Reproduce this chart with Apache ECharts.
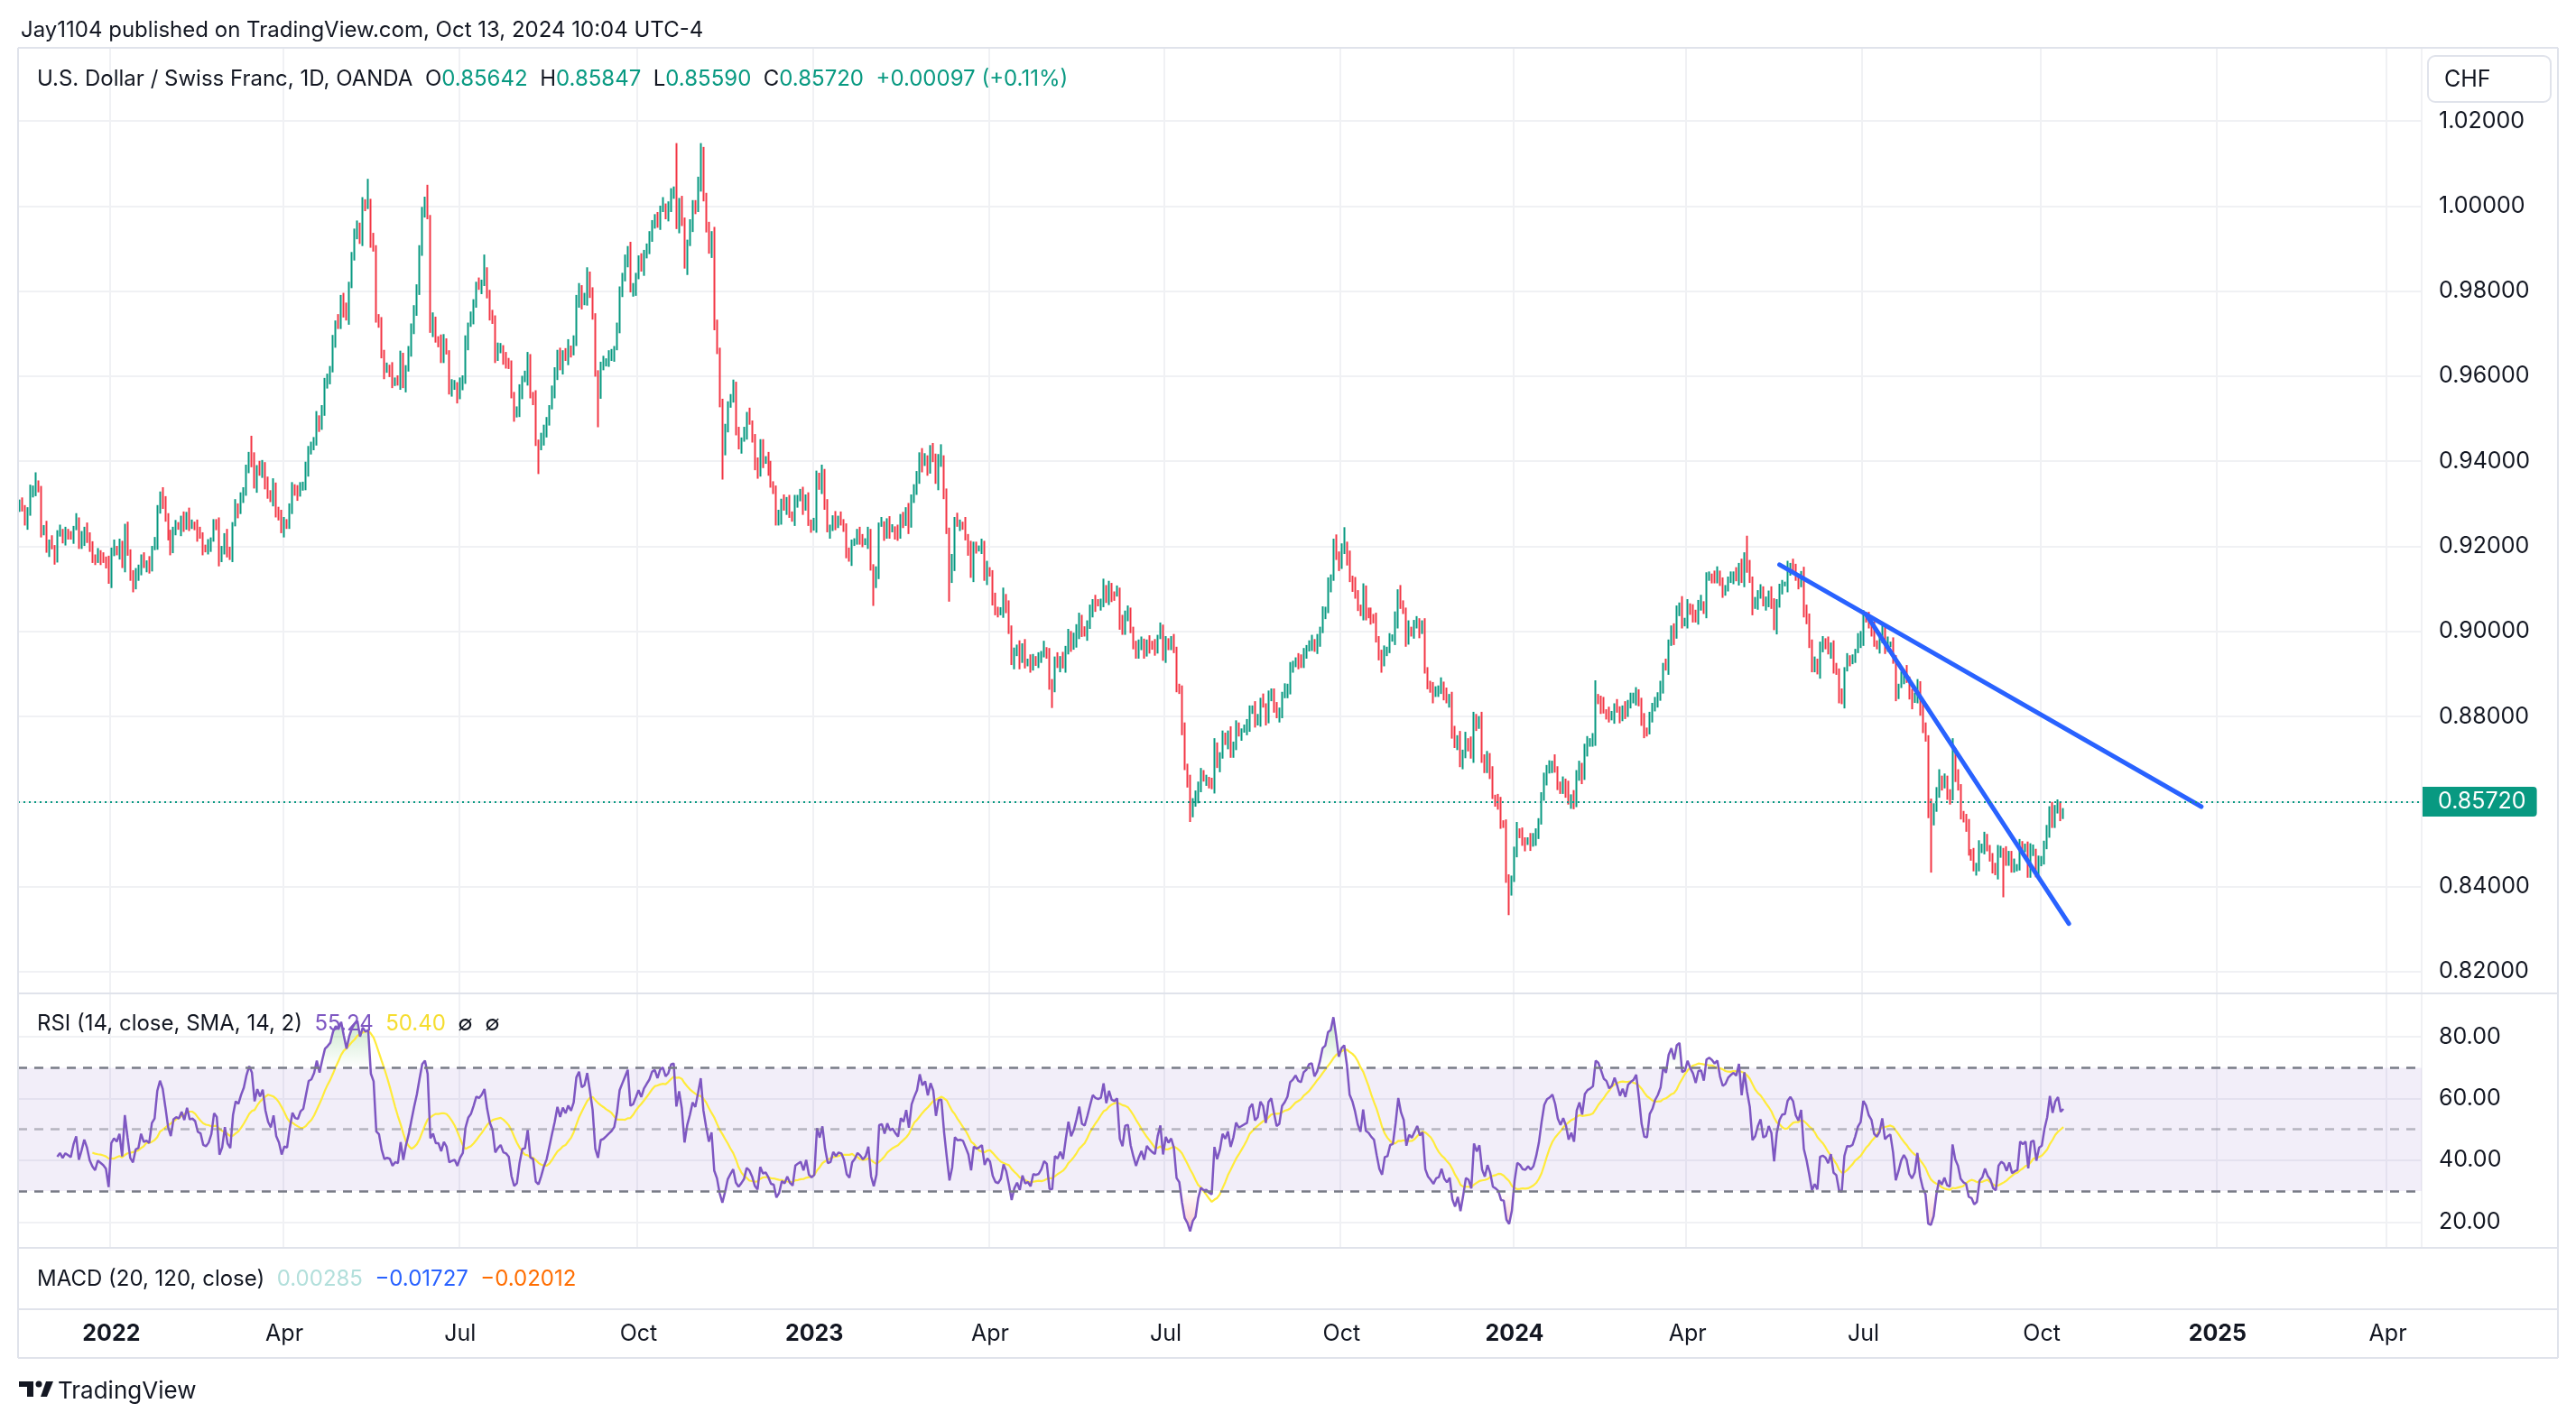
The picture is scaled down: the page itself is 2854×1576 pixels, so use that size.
<!DOCTYPE html>
<html><head><meta charset="utf-8">
<script src="https://cdn.jsdelivr.net/npm/echarts@6/dist/echarts.min.js"></script>
<style>html,body{margin:0;padding:0;background:#fff}#c{width:2854px;height:1576px}</style>
</head><body><div id="c"></div>
<script>
// ---------------- DATA ----------------
// Daily closes (in pips, x 0.0001), one trading day per entry
const closes2021 = [
  9300,9292,9254,9282,9325,9338,9345,9332,9236,9245,9195, // Nov 16-30
  9206,9198,9172,9228,9236,9222,9231,9226,9221,9243,9258,9204,9221,9241,9223,9192,9176,9166,9181,9176,9171,9163,9117 // Dec
];
const closes2022 = [
  9187,9196,9189,9203,9154,9243,9188,9124,9109,9139,9142,9176,9154,9157,9151,9196,9207,9287,9324,9308,9268, // Jan
  9219,9194,9241,9247,9244,9262,9244,9276,9251,9253,9248,9226,9223,9199,9196,9202,9216,9254,9248,9173, // Feb
  9186,9226,9189,9178,9252,9291,9286,9312,9334,9377,9412,9401,9346,9386,9371,9393,9349,9322,9309,9340,9288,9271,9236, // Mar
  9254,9251,9296,9336,9324,9322,9341,9347,9384,9426,9431,9452,9498,9479,9527,9581,9596,9614,9682,9726,9721, // Apr
  9781,9758,9736,9817,9882,9927,9956,9926,10006,9998,10012,9917,9898,9736,9724,9657,9613,9617,9613,9582,9592,9588, // May
  9645,9577,9621,9656,9704,9757,9811,9893,9988,10012,9974,9712,9735,9684,9683,9641,9679,9656,9572,9578,9581,9551, // Jun
  9577,9592,9681,9721,9737,9771,9812,9808,9822,9846,9793,9751,9728,9646,9659,9668,9642,9638,9627,9553,9508, // Jul
  9514,9561,9596,9598,9647,9553,9547,9446,9431,9452,9476,9494,9527,9563,9601,9652,9624,9656,9641,9667,9654,9681,9781, // Aug
  9809,9772,9781,9836,9794,9743,9604,9562,9624,9628,9637,9646,9654,9666,9711,9801,9833,9866,9901,9802,9809,9838, // Sep
  9869,9851,9887,9907,9926,9962,9971,9954,9991,10001,9984,9996,10032,10036,9951,10004,9963,9858,9916,9954,10004, // Oct
  9991,10049,10124,10021,9958,9893,9931,9718,9662,9532,9434,9478,9531,9553,9572,9471,9438,9451,9466,9506,9491,9454, // Nov
  9394,9369,9442,9404,9407,9381,9343,9338,9259,9271,9302,9289,9306,9277,9263,9311,9316,9320,9289,9312,9258,9247 // Dec
];
const closes2023 = [
  9252,9368,9338,9372,9296,9238,9241,9268,9253,9262,9259,9239,9187,9174,9206,9214,9226,9219,9208,9214,9231,9148, // Jan
  9112,9133,9251,9254,9228,9256,9238,9242,9231,9223,9266,9258,9287,9249,9312,9336,9357,9416,9394,9409, // Feb
  9381,9423,9408,9352,9402,9404,9321,9234,9124,9162,9264,9251,9253,9249,9224,9198,9131,9201,9193,9197,9203,9129,9146, // Mar
  9134,9076,9048,9043,9052,9083,9058,9004,8926,8952,8964,8931,8962,8928,8931,8913,8937,8934,8936,8944, // Apr
  8958,8951,8873,8872,8931,8924,8937,8918,8956,8996,8962,8977,9002,9034,8997,8993,9016,9043,9071,9066,9064,9067,9104, // May
  9072,9104,9089,9087,9093,9019,9002,9044,9046,9001,8973,8946,8961,8973,8951,8976,8968,8962,8958,8987,9006,8946, // Jun
  8979,8966,8974,8954,8872,8858,8776,8684,8648,8578,8598,8606,8642,8664,8652,8653,8641,8634,8729,8689,8711, // Jul
  8752,8738,8757,8713,8736,8776,8763,8767,8771,8774,8811,8821,8789,8796,8834,8826,8794,8846,8856,8829,8801,8806,8848, // Aug
  8858,8872,8913,8921,8934,8926,8924,8951,8958,8974,8977,8962,8974,9001,9044,9053,9112,9124,9208,9183,9152, // Sep
  9192,9206,9175,9121,9108,9087,9058,9041,9098,9046,9041,9031,9024,8984,8942,8923,8957,8959,8981,8983,9027,9094, // Oct
  9063,9046,8979,9006,8998,9012,9026,9004,9011,8906,8879,8866,8851,8861,8863,8877,8848,8836,8843,8768,8736,8751, // Nov
  8686,8712,8744,8738,8706,8801,8776,8791,8706,8677,8704,8673,8611,8603,8591,8546,8543,8424,8389,8416 // Dec
];
const closes2024 = [
  8484,8532,8524,8506,8503,8511,8499,8506,8527,8556,8607,8658,8676,8682,8691,8673,8642,8628,8644,8629,8598,8612, // Jan
  8592,8664,8686,8661,8721,8734,8739,8746,8843,8839,8826,8812,8808,8796,8803,8826,8814,8799,8816,8804,8834, // Feb
  8841,8846,8859,8829,8788,8764,8763,8806,8817,8836,8847,8864,8921,8913,8976,9004,8988,9051,9063,9017,9022, // Mar
  9061,9049,9041,9026,9064,9066,9051,9124,9131,9128,9123,9133,9112,9099,9104,9119,9126,9131,9128,9156,9119,9176, // Apr
  9148,9124,9058,9066,9087,9101,9064,9067,9086,9073,9008,9066,9097,9111,9112,9146,9156,9149,9124,9114,9137,9053,9022, // May
  8976,8914,8926,8904,8971,8974,8968,8951,8969,8911,8903,8846,8839,8911,8934,8933,8936,8954,8976,8986, // Jun
  9040,9031,9012,9003,8974,8968,8977,9004,8962,8968,8971,8934,8856,8872,8891,8901,8889,8850,8837,8846,8878,8812,8771, // Jul
  8746,8576,8564,8581,8624,8656,8636,8651,8619,8613,8711,8656,8631,8573,8556,8549,8483,8476,8441,8446,8489,8496, // Aug
  8514,8488,8474,8441,8432,8478,8486,8480,8459,8474,8443,8446,8448,8497,8491,8496,8431,8482,8484,8432,8458, // Sep
  8462,8498,8525,8584,8548,8582,8595,8564,8572 // Oct 1-11
];
const firstOpen = 0.9296;
// Upper / lower wick lengths per day, in units of 5 pips
const upWick = "2312413221 3241231322 1423132413 2213241322 3142312241 3213224132 2413213421 3122431321 4231322413 2132421332 1324213231 4213223142 3312421323 1422313241 2321342132 2413123421 3214231322 4132213421 3122341321 2413221342 3124132213 4231224132 1322413213 4213123241 3221342132 2413212431 3221432132 4123221342 1324231213 4231321423 2132413221 3421322413 1232142313 2241321342 3123241321 4132213241 2321413221 3241321324 1232413221 4321324132 2413213241 3221432132 4132213421 3213241322 1342132241 3212431322 4132213241 3213422131 4231322413 2132421322 3241321324 1322413213 4213223142 3213241321 2413221342 3122413213 4213223142 1324132213 4231224132 1322413221 3421322413 1232142313 2241321342 3123241321 4132213241 2321413221 3241321324 1232413221 4321324132 2413213241 3221432132 4132213421 3213241322 1342132241 3212431322 413221";
const dnWick = "3213224132 2413213421 3122431321 4231322413 2132421332 1324213231 4213223142 3312421323 1422313241 2321342132 2413123421 3214231322 4132213421 3122341321 2413221342 3124132213 4231224132 1322413213 4213123241 3221342132 2413212431 3221432132 4123221342 1324231213 4231321423 2132413221 3421322413 1232142313 2241321342 3123241321 4132213241 2321413221 3241321324 1232413221 4321324132 2413213241 3221432132 4132213421 3213241322 1342132241 3212431322 4132213241 3213422131 4231322413 2132421322 3241321324 1322413213 4213223142 3213241321 2413221342 3122413213 4213223142 1324132213 4231224132 1322413221 3421322413 1232142313 2241321342 3123241321 4132213241 2321413221 3241321324 1232413221 4321324132 2413213241 3221432132 4132213421 3213241322 1342132241 3212431322 4132213241 3213422131 4231322413 213242";
// Notable session extremes: [date, high, low]
const extremes = [
  ['2021-11-24',0.9374,null],['2022-01-13',null,0.9092],['2022-03-16',0.9460,null],
  ['2022-05-16',1.0064,null],['2022-06-15',1.0050,null],['2022-07-14',0.9886,null],
  ['2022-08-11',null,0.9370],['2022-09-12',null,0.9480],['2022-10-21',1.0148,null],
  ['2022-11-03',1.0148,null],['2022-11-15',null,0.9357],['2023-02-01',null,0.9060],
  ['2023-03-08',0.9440,null],['2023-03-13',null,0.9070],['2023-05-04',null,0.8820],
  ['2023-07-14',null,0.8552],['2023-10-03',0.9245,null],['2023-12-28',null,0.8333],
  ['2024-02-13',0.8885,null],['2024-05-01',0.9225,null],['2024-08-05',0.8607,0.8433],
  ['2024-08-15',0.8749,null],['2024-09-11',null,0.8375],['2024-10-11',0.85847,0.85590]
];
// Drawn trend lines: [date, price]
const trendUpper = [['2024-05-17',0.9157],['2024-12-23',0.8588]];
const trendLower = [['2024-07-02',0.9040],['2024-10-15',0.8313]];
// Tick labels
const priceTicks = [0.82,0.84,0.86,0.88,0.90,0.92,0.94,0.96,0.98,1.00,1.02];
const rsiTicks = [20,40,60,80];
const monthNames = ['Jan','Feb','Mar','Apr','May','Jun','Jul','Aug','Sep','Oct','Nov','Dec'];
const holidays = ['2023-12-25','2024-01-01','2024-12-25','2025-01-01'];
const lastClose = 0.8572, lastRsi = 55.24, lastRsiMa = 50.40;

// ---------------- BUILD ----------------
function buildDates(){
  const out=[]; let t=Date.UTC(2021,10,16); const end=Date.UTC(2025,3,17);
  while(t<=end){ const d=new Date(t); const wd=d.getUTCDay(); const s=d.toISOString().slice(0,10);
    if(wd!==0&&wd!==6&&holidays.indexOf(s)<0) out.push(s); t+=86400000; }
  return out;
}
const dates = buildDates();
const closes = [].concat(closes2021,closes2022,closes2023,closes2024).map(v=>v/10000);
const upW = upWick.replace(/\s/g,'').split('').map(Number);
const dnW = dnWick.replace(/\s/g,'').split('').map(Number);
const exMap = {}; extremes.forEach(e=>exMap[e[0]]=e);
const candles = closes.map((c,i)=>{
  const o = i ? closes[i-1] : firstOpen;
  let h = Math.max(o,c) + (upW[i]!=null?upW[i]:2)*0.0005;
  let l = Math.min(o,c) - (dnW[i]!=null?dnW[i]:2)*0.0005;
  const ex = exMap[dates[i]];
  if(ex){ if(ex[1]!=null) h=Math.max(ex[1],o,c); if(ex[2]!=null) l=Math.min(ex[2],o,c); }
  return [o,c,l,h];
});
// RSI(14) with RMA, and its SMA(14)
function calcRsi(cl,n){
  const out=new Array(cl.length).fill('-'); let g=0,ls=0;
  for(let i=1;i<=n;i++){const d=cl[i]-cl[i-1]; if(d>0) g+=d; else ls-=d;}
  g/=n; ls/=n; out[n]=ls===0?100:100-100/(1+g/ls);
  for(let i=n+1;i<cl.length;i++){const d=cl[i]-cl[i-1]; g=(g*(n-1)+Math.max(d,0))/n; ls=(ls*(n-1)+Math.max(-d,0))/n; out[i]=ls===0?100:100-100/(1+g/ls);}
  return out;
}
const rsi = calcRsi(closes,14);
const rsiMa = rsi.map((v,i)=>{ if(i<27) return '-'; let s=0; for(let k=i-13;k<=i;k++) s+=rsi[k]; return s/14; });
const obBase = rsi.map(v=>v==='-'?'-':70);
const obTop = rsi.map(v=>v==='-'?'-':Math.max(v-70,0));
const osBase = rsi.map(v=>v==='-'?'-':Math.min(v,30));
const osTop = rsi.map(v=>v==='-'?'-':30-Math.min(v,30));

const isQ = dates.map((d,i)=>{ const m=+d.slice(5,7)-1; if(m%3!==0) return false; return i===0 || dates[i-1].slice(5,7)!==d.slice(5,7); });
const qInterval = (idx)=>isQ[idx];

const FONT = "Inter, 'Noto Sans', Roboto, sans-serif";
const TXT = '#131722', GRIDC = '#f0f1f4', FRAME = '#e0e3eb';
const UP = '#089981', DOWN = '#f23645';
const HF = 24; // legend font size
const AF = 25; // axis font size

const L = 20, R = 2854-2683;
const grids = [
  {left:L, right:R, top:53, height:1048, outerBoundsMode:'none'},
  {left:L, right:R, top:1101, height:282, outerBoundsMode:'none'},
  {left:L, right:R, top:1383, height:68, outerBoundsMode:'none'}
];
function xAx(gi, showLabel){
  return {type:'category', gridIndex:gi, data:dates, boundaryGap:true,
    axisLine:{show:false}, axisTick:{show:false},
    splitLine:{show:gi<2, interval:qInterval, lineStyle:{color:GRIDC, width:2}},
    axisLabel:{show:showLabel, interval:qInterval, margin:15, fontFamily:FONT, fontSize:AF, color:TXT,
      formatter:(v)=>{ const m=+v.slice(5,7)-1; return m===0?'{y|'+v.slice(0,4)+'}':monthNames[m]; },
      rich:{y:{fontWeight:'bold', fontSize:AF, color:TXT, fontFamily:FONT}}}
  };
}
function rich(o){ const r={}; Object.keys(o).forEach(k=>r[k]={fontFamily:FONT, fontSize:HF, color:o[k]}); return r; }
const lineNone = {opacity:0};
const option = {
  animation:false,
  backgroundColor:'#ffffff',
  grid:grids,
  xAxis:[xAx(0,false), xAx(1,false), xAx(2,true)],
  yAxis:[
    {type:'value', gridIndex:0, position:'right', min:0.8149, max:1.0372, scale:true,
      axisLine:{show:false}, axisTick:{show:false, customValues:priceTicks},
      axisLabel:{customValues:priceTicks, margin:19, fontFamily:FONT, fontSize:AF, color:TXT, formatter:v=>v.toFixed(5)},
      splitLine:{show:true, lineStyle:{color:GRIDC, width:2}}},
    {type:'value', gridIndex:1, position:'right', min:11.6, max:94.1,
      axisLine:{show:false}, axisTick:{show:false, customValues:rsiTicks},
      axisLabel:{customValues:rsiTicks, margin:19, fontFamily:FONT, fontSize:AF, color:TXT, formatter:v=>v.toFixed(2)},
      splitLine:{show:true, lineStyle:{color:GRIDC, width:2}}},
    {type:'value', gridIndex:2, position:'right', min:0, max:1, show:false}
  ],
  title:[
    {left:18, top:17, text:'Jay1104 published on TradingView.com, Oct 13, 2024 10:04 UTC-4',
      textStyle:{fontFamily:FONT, fontSize:HF, fontWeight:'normal', color:TXT}},
    {left:36, top:71, text:'{n|U.S. Dollar / Swiss Franc, 1D, OANDA}  {n|O}{g|0.85642}  {n|H}{g|0.85847}  {n|L}{g|0.85590}  {n|C}{g|0.85720}  {g|+0.00097 (+0.11%)}',
      textStyle:{fontFamily:FONT, fontSize:HF, fontWeight:'normal', color:TXT, rich:rich({n:TXT, g:UP})}},
    {left:36, top:1118, text:'{n|RSI (14, close, SMA, 14, 2)}  {p|55.24}  {y|50.40}  {n|∅}  {n|∅}',
      textStyle:{fontFamily:FONT, fontSize:HF, fontWeight:'normal', color:TXT, rich:rich({n:TXT, p:'#7e57c2', y:'#f5dd2f'})}},
    {left:36, top:1401, text:'{n|MACD (20, 120, close)}  {a|0.00285}  {b|\u22120.01727}  {c|\u22120.02012}',
      textStyle:{fontFamily:FONT, fontSize:HF, fontWeight:'normal', color:TXT, rich:rich({n:TXT, a:'#b2dfdb', b:'#2962ff', c:'#ff6d00'})}}
  ],
  graphic:[
    {type:'line', z:50, shape:{x1:20,y1:53,x2:2834,y2:53}, style:{stroke:FRAME, lineWidth:2}},
    {type:'line', z:50, shape:{x1:20,y1:1101,x2:2834,y2:1101}, style:{stroke:FRAME, lineWidth:2}},
    {type:'line', z:50, shape:{x1:20,y1:1383,x2:2834,y2:1383}, style:{stroke:FRAME, lineWidth:2}},
    {type:'line', z:50, shape:{x1:20,y1:1451,x2:2834,y2:1451}, style:{stroke:FRAME, lineWidth:2}},
    {type:'line', z:50, shape:{x1:20,y1:1505,x2:2834,y2:1505}, style:{stroke:FRAME, lineWidth:2}},
    {type:'line', z:50, shape:{x1:20,y1:53,x2:20,y2:1505}, style:{stroke:FRAME, lineWidth:2}},
    {type:'line', z:50, shape:{x1:2834,y1:53,x2:2834,y2:1505}, style:{stroke:FRAME, lineWidth:2}},
    {type:'rect', z:50, shape:{x:2690,y:62,width:136,height:51,r:8}, style:{fill:'#fff', stroke:FRAME, lineWidth:2}},
    {type:'text', z:51, x:2708, y:88, style:{text:'CHF', fontFamily:FONT, fontSize:AF, fill:TXT, verticalAlign:'middle'}},
    // TradingView logo
    {type:'rect', z:50, shape:{x:21,y:1531,width:16,height:6}, style:{fill:TXT}},
    {type:'rect', z:50, shape:{x:30,y:1531,width:7,height:17}, style:{fill:TXT}},
    {type:'circle', z:50, shape:{cx:43,cy:1534,r:3.5}, style:{fill:TXT}},
    {type:'polygon', z:50, shape:{points:[[45,1548],[51,1531],[59,1531],[52,1548]]}, style:{fill:TXT}},
    {type:'text', z:51, x:64, y:1542, style:{text:'TradingView', fontFamily:FONT, fontSize:26, fill:TXT, verticalAlign:'middle'}}
  ],
  series:[
    {type:'candlestick', xAxisIndex:0, yAxisIndex:0, data:candles, large:false, barWidth:0.6,
      itemStyle:{color:UP, color0:DOWN, borderColor:UP, borderColor0:DOWN, borderWidth:2},
      markLine:{silent:true, symbol:['none','none'], z:10,
        data:[{yAxis:lastClose}],
        lineStyle:{color:UP, width:2, type:[2,4]},
        label:{show:true, position:'end', distance:1, formatter:'0.85720', color:'#fff', backgroundColor:UP,
          fontFamily:FONT, fontSize:AF, padding:[4,12,4,17], borderRadius:[0,4,4,0]}}},
    {type:'line', xAxisIndex:0, yAxisIndex:0, data:trendUpper, symbol:'none', silent:true, z:6,
      lineStyle:{color:'#2962ff', width:5, cap:'round'}},
    {type:'line', xAxisIndex:0, yAxisIndex:0, data:trendLower, symbol:'none', silent:true, z:6,
      lineStyle:{color:'#2962ff', width:5, cap:'round'}},
    {type:'line', xAxisIndex:1, yAxisIndex:1, data:obBase, stack:'ob', symbol:'none', silent:true, lineStyle:lineNone},
    {type:'line', xAxisIndex:1, yAxisIndex:1, data:obTop, stack:'ob', symbol:'none', silent:true, lineStyle:lineNone,
      areaStyle:{color:new echarts.graphic.LinearGradient(0,0,0,1,[{offset:0,color:'rgba(76,175,80,0.45)'},{offset:1,color:'rgba(76,175,80,0)'}])}},
    {type:'line', xAxisIndex:1, yAxisIndex:1, data:osBase, stack:'os', symbol:'none', silent:true, lineStyle:lineNone},
    {type:'line', xAxisIndex:1, yAxisIndex:1, data:osTop, stack:'os', symbol:'none', silent:true, lineStyle:lineNone,
      areaStyle:{color:new echarts.graphic.LinearGradient(0,0,0,1,[{offset:0,color:'rgba(242,54,69,0)'},{offset:1,color:'rgba(242,54,69,0.4)'}])}},
    {type:'line', xAxisIndex:1, yAxisIndex:1, data:rsi, symbol:'none', z:4,
      lineStyle:{color:'#7e57c2', width:2.5},
      markArea:{silent:true, itemStyle:{color:'rgba(126,87,194,0.1)'}, data:[[{yAxis:30},{yAxis:70}]]},
      markLine:{silent:true, symbol:['none','none'], z:10, data:[
        {yAxis:70, lineStyle:{color:'#787b86', width:2.5, type:[10,8]}, label:{show:false}},
        {yAxis:50, lineStyle:{color:'rgba(120,123,134,0.5)', width:2.5, type:[10,8]}, label:{show:false}},
        {yAxis:30, lineStyle:{color:'#787b86', width:2.5, type:[10,8]}, label:{show:false}},
        {yAxis:lastRsi, lineStyle:{opacity:0}, label:{show:true, position:'end', distance:1, formatter:'55.24', color:'#fff',
          backgroundColor:'#7e57c2', fontFamily:FONT, fontSize:AF, padding:[4,10,3,17], borderRadius:[0,4,4,0]}}
      ]}},
    {type:'line', xAxisIndex:1, yAxisIndex:1, data:rsiMa, symbol:'none', z:3,
      lineStyle:{color:'#ffeb3b', width:2.2},
      markLine:{silent:true, symbol:['none','none'], z:10, data:[
        {yAxis:lastRsiMa, lineStyle:{opacity:0}, label:{show:true, position:'end', distance:1, offset:[0,16], formatter:'50.40', color:TXT,
          backgroundColor:'#ffeb3b', fontFamily:FONT, fontSize:AF, padding:[4,10,3,17], borderRadius:[0,4,4,0]}}
      ]}},
    {type:'line', xAxisIndex:2, yAxisIndex:2, data:[], symbol:'none'}
  ]
};
const chart = echarts.init(document.getElementById('c'), null, {renderer:'canvas'});
chart.setOption(option);
</script>
</body></html>
